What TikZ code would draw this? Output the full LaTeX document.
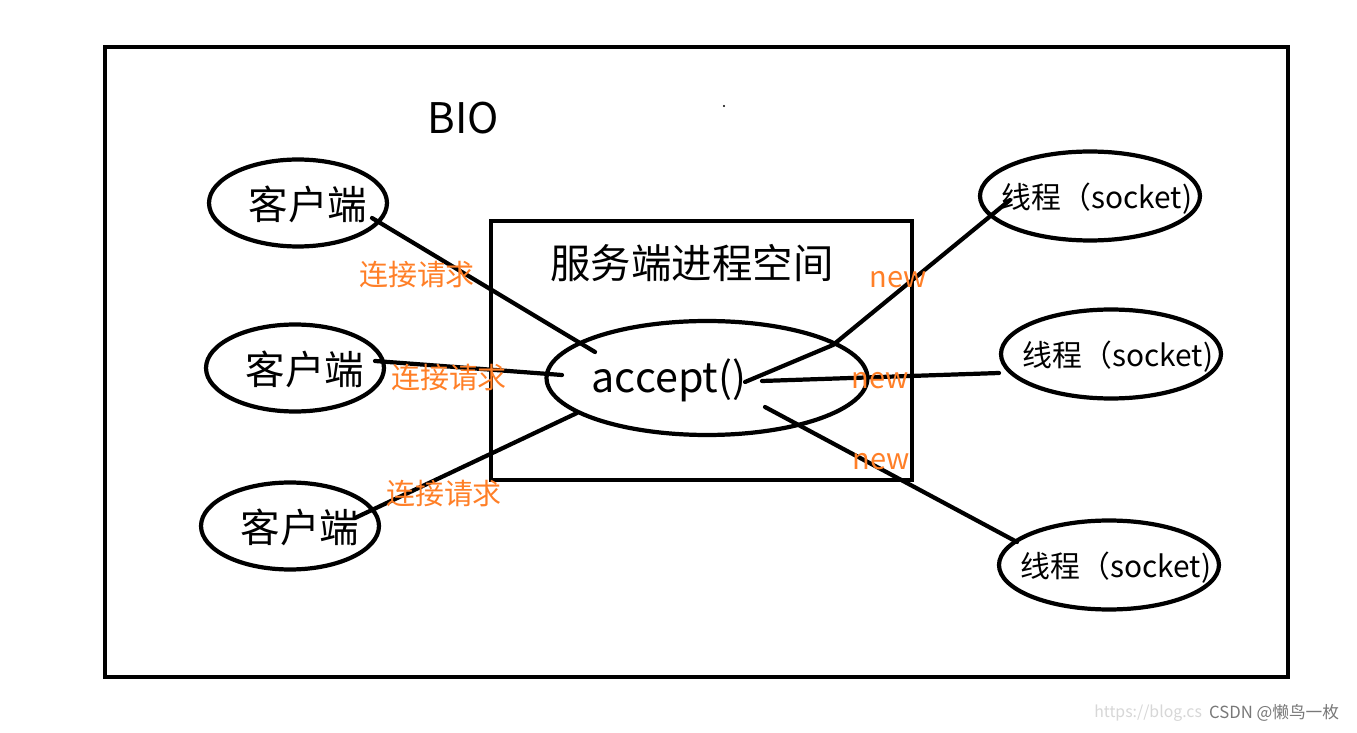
\documentclass[tikz,border=0pt]{standalone}
\usepackage{fontspec}
\setmainfont{Noto Sans CJK SC}
\usetikzlibrary{shapes.geometric,calc}
\definecolor{orng}{RGB}{255,127,39}
\definecolor{wmlight}{RGB}{215,215,215}
\definecolor{wmdark}{RGB}{120,120,120}
\begin{document}
\begin{tikzpicture}[x=0.02cm,y=-0.02cm,line width=2.4pt,
  oval/.style={draw,ellipse,inner sep=0pt},
  client/.style={oval,minimum width=3.56cm,minimum height=1.74cm},
  thread/.style={oval,minimum width=4.4cm,minimum height=1.78cm},
  bigtxt/.style={inner sep=0pt,font=\fontsize{22.5}{26}\selectfont},
  midtxt/.style={inner sep=0pt,font=\fontsize{17}{20}\selectfont},
  lbl/.style={inner sep=0pt,text=orng,font=\fontsize{16.5}{20}\selectfont},
  conn/.style={line width=2.4pt,line cap=round}]
\useasboundingbox (0,0) rectangle (1357,733);
\fill[white] (0,0) rectangle (1357,733);
% frames
\draw (105,47) rectangle (1288,677);
\draw (491,221) rectangle (912,480);
\node[inner sep=0pt,font=\fontsize{24}{28}\selectfont] (bio) at (463,118) {BIO};
\node[inner sep=0pt,font=\fontsize{23}{27}\selectfont] (srvt) at (692,263) {服务端进程空间};
\fill (724,106) circle (0.6pt);
% clients
\node[client] (c1) at (298,203) {};
\node[client] (c2) at (295,368) {};
\node[client] (c3) at (290,526) {};
\node[bigtxt] (c1t) at (308,204) {客户端};
\node[bigtxt] (c2t) at (305,369) {客户端};
\node[bigtxt] (c3t) at (300,527) {客户端};
% accept
\node[oval,minimum width=6.42cm,minimum height=2.28cm] (acc) at (707,378) {};
\node[inner sep=0pt,font=\fontsize{23.5}{27}\selectfont] (acct) at (669,380) {accept()};
% threads
\node[thread] (t1) at (1090,196) {};
\node[thread] (t2) at (1111,354) {};
\node[thread] (t3) at (1109,565) {};
\node[midtxt] (t1t) at (1097,199) {线程（socket)};
\node[midtxt] (t2t) at (1118,357) {线程（socket)};
\node[midtxt] (t3t) at (1116,568) {线程（socket)};
% connectors clients -> accept
\draw[conn] ($(c1)+(74,15)$) -- ($(acc)+(-112,-26)$);
\draw[conn] ($(c2)+(80,-7)$) -- ($(acc)+(-145,-3)$);
\draw[conn] ($(c3)+(65,-8)$) -- ($(acc)+(-130,35)$);
% connectors accept -> threads
\draw[conn] ($(acc)+(38,4)$) -- ($(acc)+(126,-33)$) -- ($(t1)+(-80,4)$);
\draw[conn] ($(acc)+(55,3)$) -- ($(t2)+(-112,19)$);
\draw[conn] ($(acc)+(58,29)$) -- ($(t3)+(-92,-23)$);
% labels
\node[lbl] (l1) at (417,275) {连接请求};
\node[lbl] (l2) at (449,378) {连接请求};
\node[lbl] (l3) at (444,494) {连接请求};
\node[lbl] (n1) at (898,280) {new};
\node[lbl] (n2) at (880,381) {new};
\node[lbl] (n3) at (881,462) {new};
% watermark
\node[inner sep=0pt,anchor=east,text=wmlight,font=\fontsize{9}{11}\selectfont] (wm1) at (1204,713) {https://blog.cs};
\node[inner sep=0pt,anchor=west,text=wmdark,font=\fontsize{9.5}{11}\selectfont] (wm2) at (1207,713) {CSDN @懒鸟一枚};
\end{tikzpicture}
\end{document}
